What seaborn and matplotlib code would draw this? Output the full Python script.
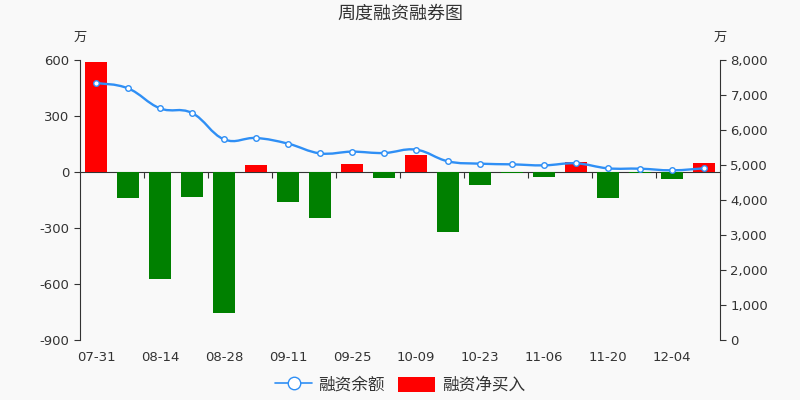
import numpy as np
import pandas as pd
import matplotlib
matplotlib.use("Agg")
import matplotlib.pyplot as plt
import seaborn as sns
from matplotlib.path import Path
from matplotlib.patches import PathPatch, Patch
from matplotlib.lines import Line2D
from matplotlib.ticker import FuncFormatter

# weekly data (万)
dates = ["07-31", "08-07", "08-14", "08-21", "08-28", "09-04", "09-11", "09-18",
         "09-25", "10-02", "10-09", "10-16", "10-23", "10-30", "11-06", "11-13",
         "11-20", "11-27", "12-04", "12-11"]
net_buy = [587, -141, -573, -132, -753, 39, -160, -246, 44, -30,
           89, -322, -68, -7, -27, 52, -141, -7, -37, 50]
balance = [7343, 7190, 6619, 6486, 5733, 5771, 5610, 5333, 5381, 5343,
           5438, 5105, 5038, 5019, 4990, 5048, 4905, 4895, 4848, 4905]

bg = "#f9f9f9"
txt = "#333333"
blue = "#2f8ff5"

sns.set_style("white")
plt.rcParams["font.family"] = ["DejaVu Sans", "Noto Sans CJK SC"]
plt.rcParams["axes.unicode_minus"] = False

df = pd.DataFrame({"x": range(len(dates)), "net": net_buy,
                   "sign": ["pos" if v >= 0 else "neg" for v in net_buy]})

fig, ax = plt.subplots(figsize=(8, 4), dpi=100)
fig.patch.set_facecolor(bg)
ax.set_facecolor(bg)
fig.subplots_adjust(left=0.1, right=0.9, top=0.85, bottom=0.15)

sns.barplot(data=df, x="x", y="net", hue="sign",
            palette={"pos": "#ff0000", "neg": "#008000"}, saturation=1,
            dodge=False, width=0.7, legend=False, ax=ax, linewidth=0)
ax.set_xlim(-0.5, len(dates) - 0.5)
ax.set_ylim(-900, 600)
ax.set_yticks([-900, -600, -300, 0, 300, 600])
ax.set_xticks(range(0, len(dates), 2))
ax.set_xticklabels(dates[::2])
ax.set_xlabel("")
ax.set_ylabel("")
ax.tick_params(axis="x", length=0, pad=8, colors=txt, labelsize=9.5)
ax.tick_params(axis="y", length=4, color=txt, colors=txt, labelsize=9.5)
for s in ["top", "right", "bottom"]:
    ax.spines[s].set_visible(False)
ax.spines["left"].set_color(txt)

# x axis line at zero with boundary ticks pointing down
zero_pos = (0 - (-900)) / 1500
sec = ax.secondary_xaxis(zero_pos)
sec.set_xticks(np.arange(1.5, len(dates) - 1, 2))
sec.set_xticklabels([])
sec.tick_params(axis="x", direction="in", length=4, color=txt)
for sp in sec.spines.values():
    sp.set_color(txt)

ax2 = ax.twinx()
ax2.set_ylim(0, 8000)
ax2.set_yticks(range(0, 8001, 1000))
ax2.yaxis.set_major_formatter(FuncFormatter(lambda v, p: f"{int(v):,}"))
ax2.tick_params(axis="y", length=4, color=txt, colors=txt, labelsize=9.5)
for s in ["top", "left", "bottom"]:
    ax2.spines[s].set_visible(False)
ax2.spines["right"].set_color(txt)

# smooth curve through balance points
xs = np.arange(len(balance), dtype=float)
ys = np.array(balance, dtype=float)
verts = [(xs[0], ys[0])]
codes = [Path.MOVETO]
k = 0.2
for i in range(len(xs) - 1):
    p0 = (xs[max(i - 1, 0)], ys[max(i - 1, 0)])
    p1 = (xs[i], ys[i])
    p2 = (xs[i + 1], ys[i + 1])
    p3 = (xs[min(i + 2, len(xs) - 1)], ys[min(i + 2, len(xs) - 1)])
    c1 = (p1[0] + (p2[0] - p0[0]) * k, p1[1] + (p2[1] - p0[1]) * k)
    c2 = (p2[0] - (p3[0] - p1[0]) * k, p2[1] - (p3[1] - p1[1]) * k)
    verts += [c1, c2, p2]
    codes += [Path.CURVE4] * 3
ax2.add_patch(PathPatch(Path(verts, codes), facecolor="none", edgecolor=blue,
                        lw=1.7, zorder=3))
sns.lineplot(x=xs, y=ys, ax=ax2, marker="o", linestyle="none", markersize=4,
             markerfacecolor="white", markeredgecolor=blue, markeredgewidth=1,
             zorder=4)

ax.text(0, 1.08, "万", transform=ax.transAxes, ha="center", va="center",
        fontsize=9.5, color=txt)
ax.text(1, 1.08, "万", transform=ax.transAxes, ha="center", va="center",
        fontsize=9.5, color=txt)
fig.text(0.5, 0.965, "周度融资融券图", ha="center", va="center", fontsize=13,
         color=txt)

handles = [Line2D([0], [0], color=blue, lw=1.2, marker="o", markersize=9,
                  markerfacecolor="white", markeredgecolor=blue),
           Patch(facecolor="#ff0000", edgecolor="none")]
fig.legend(handles, ["融资余额", "融资净买入"], loc="center",
           bbox_to_anchor=(0.5, 0.038), ncol=2, frameon=False, fontsize=12,
           handlelength=2.2, handleheight=1.0, columnspacing=0.8,
           handletextpad=0.4, labelcolor=txt)

fig.savefig("out.png", dpi=100, facecolor=bg)
